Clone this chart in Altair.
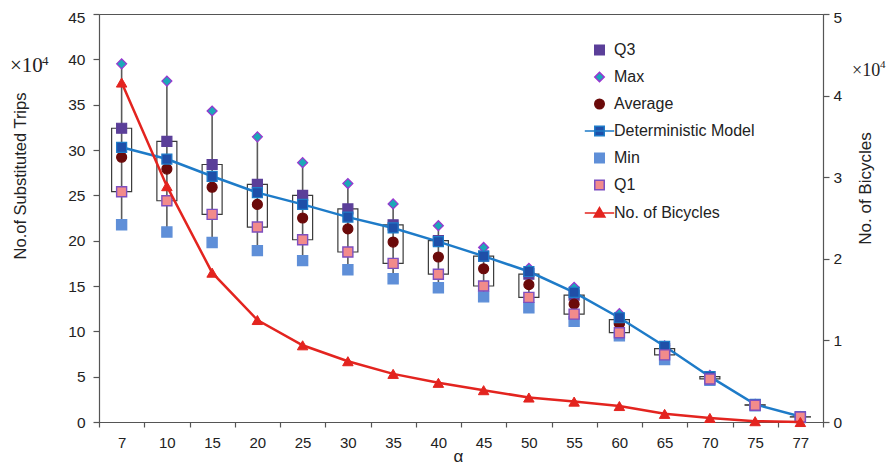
import altair as alt
import pandas as pd

alphas = ["7", "10", "15", "20", "25", "30", "35", "40", "45", "50", "55", "60", "65", "70", "75", "77"]
max_v = [39.5, 37.6, 34.3, 31.45, 28.6, 26.3, 24.05, 21.65, 19.25, 16.95, 14.85, 11.95, 8.4, 5.15, 1.95, 0.6]
q3_v = [32.4, 30.95, 28.4, 26.2, 25.0, 23.5, 21.75, 20.0, 18.3, 16.3, 14.0, 11.3, 8.1, 5.0, 1.9, 0.58]
avg_v = [29.2, 27.9, 25.9, 24.0, 22.5, 21.3, 19.85, 18.2, 16.9, 15.15, 13.0, 10.85, 7.9, 4.9, 1.88, 0.56]
det_v = [30.3, 29.0, 27.1, 25.3, 24.0, 22.6, 21.4, 19.9, 18.3, 16.6, 14.3, 11.5, 8.35, 5.0, 1.95, 0.6]
min_v = [21.75, 20.95, 19.8, 18.9, 17.8, 16.8, 15.8, 14.8, 13.8, 12.6, 11.1, 9.5, 6.9, 4.6, 1.8, 0.5]
q1_v = [25.4, 24.4, 22.9, 21.5, 20.1, 18.75, 17.5, 16.3, 15.0, 13.75, 11.9, 9.85, 7.4, 4.75, 1.85, 0.55]
bikes_v = [4.16, 2.89, 1.83, 1.25, 0.94, 0.745, 0.59, 0.48, 0.39, 0.30, 0.25, 0.196, 0.10, 0.05, 0.01, 0.0]

series_names = ["Q3", "Max", "Average", "Deterministic Model", "Min", "Q1", "No. of Bicycles"]
fill_colors = ["#5B3F99", "#1BA8B8", "#6B0A0A", "#1F4FA8", "#5F8FD8", "#F28B8B", "#E3241F"]
stroke_colors = ["#5B3F99", "#9A35D0", "#6B0A0A", "#1E7BC8", "#5F8FD8", "#7D4FC0", "#E3241F"]
shapes = ["square", "diamond", "circle",
          "M-3.1,0H3.1M-1,-1H1V1H-1Z",
          "square", "square",
          "M-3.1,0H3.1M0,-1.15L1.15,0.85H-1.15Z"]

wide = pd.DataFrame({"alpha": alphas, "max": max_v, "q3": q3_v, "avg": avg_v,
                     "det": det_v, "min": min_v, "q1": q1_v, "bikes": bikes_v})

def long(pairs):
    rows = []
    for name, vals in pairs:
        for a, v in zip(alphas, vals):
            rows.append({"alpha": a, "series": name, "value": v})
    return pd.DataFrame(rows)

top_pts = long([("Q3", q3_v), ("Max", max_v), ("Average", avg_v)])
low_pts = long([("Min", min_v), ("Q1", q1_v)])
det_pts = long([("Deterministic Model", det_v)])
bike_pts = long([("No. of Bicycles", bikes_v)])

FONT = "Liberation Sans"

x_scale = alt.Scale(type="band", domain=alphas, paddingInner=0, paddingOuter=0)
x_axis = alt.Axis(title="α", labelAngle=0, tickBand="extent", tickSize=5, labelPadding=8,
                  labelFontSize=15, titleFontSize=17, titleFontWeight="normal",
                  titleX=359, titleY=34, titleBaseline="middle", titleAlign="center")

def X():
    return alt.X("alpha:O", scale=x_scale, axis=x_axis, sort=alphas)

yl_scale = alt.Scale(domain=[0, 45], nice=False)
yl_axis = alt.Axis(orient="left", values=list(range(0, 46, 5)), title="No.of Substituted Trips",
                   tickSize=6, labelPadding=8, labelFontSize=15.5, titleFontSize=16.5,
                   titleFontWeight="normal", titleX=-79, titleY=161.5, titleAngle=270,
                   titleBaseline="middle", titleAlign="center", grid=False,
                   labelOffset={"condition": {"test": "datum.value === 45", "value": 3}, "value": 0})

def YL(field):
    return alt.Y(field, type="quantitative", scale=yl_scale, axis=yl_axis, title="No.of Substituted Trips")

yr_scale = alt.Scale(domain=[0, 5], nice=False)
yr_axis = alt.Axis(orient="right", values=[0, 1, 2, 3, 4, 5], title="No. of Bicycles",
                   tickSize=6, labelPadding=4, labelFontSize=15.5, titleFontSize=17,
                   titleFontWeight="normal", titleX=42, titleY=174, titleAngle=270,
                   titleBaseline="middle", titleAlign="center", grid=False,
                   labelOffset={"condition": {"test": "datum.value === 5", "value": 3}, "value": 0})

def YR(field):
    return alt.Y(field, type="quantitative", scale=yr_scale, axis=yr_axis, title="No. of Bicycles")

fill_enc = alt.Fill("series:N", title=None,
                    scale=alt.Scale(domain=series_names, range=fill_colors))
stroke_enc = alt.Stroke("series:N", title=None,
                        scale=alt.Scale(domain=series_names, range=stroke_colors))
shape_enc = alt.Shape("series:N", title=None,
                      scale=alt.Scale(domain=series_names, range=shapes))

box = alt.Chart(wide).mark_bar(size=20, fill="white", fillOpacity=0, stroke="#3a3a3a",
                               strokeWidth=1.2).encode(x=X(), y=YL("q3"), y2="q1")
whisk = alt.Chart(wide).mark_rule(color="#5a5a5a", strokeWidth=1.6).encode(
    x=X(), y=YL("max"), y2="min")
det_line = alt.Chart(wide).mark_line(color="#1E7BC8", strokeWidth=2.5).encode(
    x=X(), y=YL("det"))
pts_top = alt.Chart(top_pts).mark_point(filled=True, size=100, opacity=1, strokeWidth=1.2).encode(
    x=X(), y=YL("value"), fill=fill_enc, stroke=stroke_enc, shape=shape_enc)
pts_det = alt.Chart(det_pts).mark_point(filled=True, size=100, opacity=1, strokeWidth=1.2,
                                        shape="square").encode(
    x=X(), y=YL("value"), fill=fill_enc, stroke=stroke_enc)
pts_low = alt.Chart(low_pts).mark_point(filled=True, size=100, opacity=1, strokeWidth=1.4).encode(
    x=X(), y=YL("value"), fill=fill_enc, stroke=stroke_enc, shape=shape_enc)

annot = pd.DataFrame({"t": ["×10"], "s": ["4"]})
xl_a = alt.Chart(annot).mark_text(font="Liberation Serif", fontSize=21, align="left",
                                  baseline="alphabetic", color="#222").encode(
    x=alt.value(-89), y=alt.value(58), text="t:N")
xl_b = alt.Chart(annot).mark_text(font="Liberation Serif", fontSize=13, align="left",
                                  baseline="alphabetic", color="#222").encode(
    x=alt.value(-57), y=alt.value(51), text="s:N")
xr_a = alt.Chart(annot).mark_text(font="Liberation Serif", fontSize=18, align="left",
                                  baseline="alphabetic", color="#222").encode(
    x=alt.value(753), y=alt.value(62), text="t:N")
xr_b = alt.Chart(annot).mark_text(font="Liberation Serif", fontSize=11, align="left",
                                  baseline="alphabetic", color="#222").encode(
    x=alt.value(781), y=alt.value(54), text="s:N")

left = alt.layer(box, whisk, det_line, pts_top, pts_det, pts_low, xl_a, xl_b, xr_a, xr_b)

bike_line = alt.Chart(wide).mark_line(color="#E3241F", strokeWidth=2.5).encode(
    x=X(), y=YR("bikes"))
bike_pts_l = alt.Chart(bike_pts).mark_point(filled=True, size=110, opacity=1, strokeWidth=1,
                                            shape="triangle-up").encode(
    x=X(), y=YR("value"), fill=fill_enc, stroke=stroke_enc)
right = alt.layer(bike_line, bike_pts_l)

chart = alt.layer(left, right).resolve_scale(y="independent").properties(
    width=724, height=408, autosize="none",
    padding={"left": 91, "top": 6, "right": 64, "bottom": 45},
).configure_view(stroke="#555", strokeWidth=1).configure_axis(
    labelFont=FONT, titleFont=FONT, labelColor="#222", titleColor="#222",
    domainColor="#555", tickColor="#555", domainWidth=1.2, tickWidth=1.2, grid=False
).configure_legend(
    orient="none", legendX=492.5, legendY=28, labelFont=FONT, labelFontSize=16,
    labelColor="#222", symbolSize=90, symbolStrokeWidth=1.5, rowPadding=11,
    labelOffset=6.5, symbolOpacity=1
)

chart.save("out.html", embed_options={"renderer": "svg", "actions": False})
